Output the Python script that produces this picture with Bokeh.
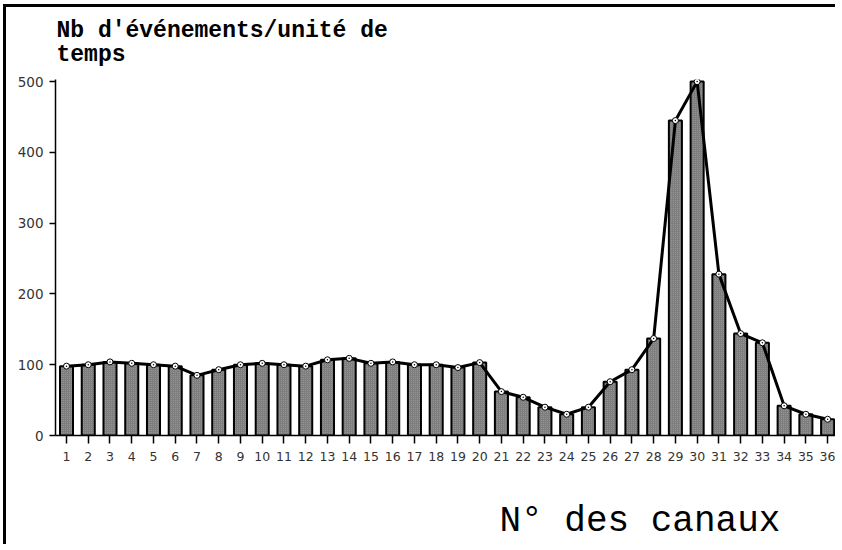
from bokeh.plotting import figure
from bokeh.models import Range1d, FixedTicker, Title
from bokeh.embed import file_html
from bokeh.resources import INLINE

# ---- data ----
channels = list(range(1, 37))
counts = [98, 100, 104, 102, 100, 98, 85, 93, 100, 102, 100, 98,
          107, 109, 102, 104, 100, 100, 96, 103, 62, 54, 40, 30,
          40, 76, 93, 137, 445, 500, 228, 144, 131, 42, 30, 23]
y_ticks = [0, 100, 200, 300, 400, 500]
title_text = "Nb d'événements/unité de\ntemps"
x_title = "N° des canaux"

p = figure(width=832, height=540, output_backend="svg", toolbar_location=None,
           x_range=Range1d(0.494, 36.5), y_range=Range1d(0, 503),
           min_border_left=49, min_border_right=0, min_border_top=72,
           min_border_bottom=112)
p.styles = {"border-left": "3px solid black", "border-top": "3px solid black",
            "margin-left": "3px", "margin-top": "4px"}
p.outline_line_color = None
p.xgrid.visible = False
p.ygrid.visible = False
p.background_fill_color = "white"
p.border_fill_color = "white"

p.vbar(x=channels, top=counts, bottom=0, width=0.6,
       fill_color="#7e7e7e", line_color="black", line_width=2,
       hatch_pattern="dot", hatch_color="#9c9c9c", hatch_scale=2, hatch_weight=1)
p.line(x=channels, y=counts, line_color="black", line_width=3)
p.scatter(x=channels, y=counts, marker="circle_dot", size=6,
          fill_color="white", line_color="black", line_width=1)

# axes
p.xaxis.ticker = FixedTicker(ticks=channels)
p.yaxis.ticker = FixedTicker(ticks=y_ticks)
for ax in (p.xaxis[0], p.yaxis[0]):
    ax.axis_line_color = "black"
    ax.axis_line_width = 1.5
    ax.major_tick_line_color = "black"
    ax.major_tick_line_width = 1.5
    ax.major_tick_in = 0
    ax.minor_tick_line_color = None
    ax.major_label_text_font = "DejaVu Sans"
    ax.major_label_text_color = "#333333"
p.xaxis.major_tick_out = 8
p.xaxis.major_label_standoff = 8
p.xaxis.major_label_text_font_size = "12.5px"
p.yaxis.major_tick_out = 6
p.yaxis.major_label_standoff = 6
p.yaxis.major_label_text_font_size = "13.5px"

# titles (thin spacer titles keep them in place)
p.title.visible = False
p.add_layout(Title(text=" ", text_font_size="1px", standoff=8), "above")
p.add_layout(Title(text=title_text, align="left", offset=1,
                   text_font="Liberation Mono", text_font_style="bold",
                   text_font_size="23px", text_color="black",
                   text_line_height=0.96, standoff=0), "above")
p.add_layout(Title(text=" ", text_font_size="1px", standoff=32), "below")
p.add_layout(Title(text=x_title, align="left", offset=444,
                   text_font="Liberation Mono", text_font_style="normal",
                   text_font_size="36px", text_color="black",
                   standoff=0), "below")

open("out.html", "w").write(file_html(p, INLINE))
